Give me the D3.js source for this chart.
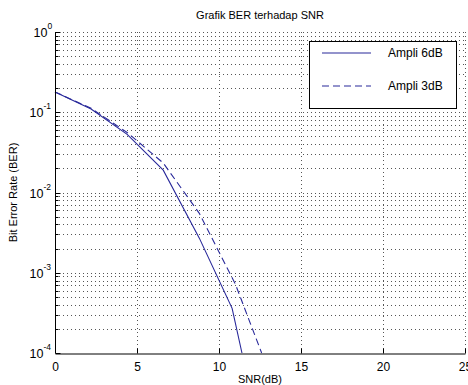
<html>
<head>
<script src="https://cdn.jsdelivr.net/npm/d3@7"></script>
<style>
  body { margin: 0; background: #fff; }
  text { font-family: "Liberation Sans", Arial, sans-serif; fill: #000; }
</style>
</head>
<body>
<div id="container"></div>
<script>
// data
const snr6 = [0, 2.2, 4.4, 6.6, 8.8, 10.8, 11.4];
const ber6 = [0.179, 0.11, 0.053, 0.019, 0.0027, 0.00036, 0.0001];
const snr3 = [0, 2.2, 4.4, 6.6, 8.8, 11.0, 12.6];
const ber3 = [0.179, 0.112, 0.056, 0.0233, 0.0055, 0.00072, 0.0001];
const seriesNames = ["Ampli 6dB", "Ampli 3dB"];
const xTicks = [0, 5, 10, 15, 20, 25];
const yExps = [0, -1, -2, -3, -4];

const width = 468, height = 385;
const margin = { top: 32, right: 3, bottom: 32, left: 55 };
const lineColor = "#28289a";

const svg = d3.select("#container").append("svg")
    .attr("width", width)
    .attr("height", height);

const x = d3.scaleLinear().domain([0, 25]).range([margin.left, width - margin.right]);
const y = d3.scaleLog().domain([1e-4, 1]).range([height - margin.bottom, margin.top]);

// grid (dotted)
const minors = [];
for (let e = -4; e < 0; e++) for (let m = 1; m <= 9; m++) minors.push(m * Math.pow(10, e));
minors.push(1);

const grid = svg.append("g")
    .attr("stroke", "#555")
    .attr("stroke-width", 1)
    .attr("stroke-dasharray", "1,3");

grid.selectAll("line.h")
    .data(minors.filter(v => v > 1e-4))
    .join("line")
    .attr("x1", x(0)).attr("x2", x(25))
    .attr("y1", d => Math.round(y(d)) + 0.5)
    .attr("y2", d => Math.round(y(d)) + 0.5);

grid.selectAll("line.v")
    .data(xTicks.filter(v => v > 0))
    .join("line")
    .attr("x1", d => Math.round(x(d)) + 0.5)
    .attr("x2", d => Math.round(x(d)) + 0.5)
    .attr("y1", y(1e-4)).attr("y2", y(1));

// curves
const line = d3.line()
    .x(d => x(d[0]))
    .y(d => y(d[1]));

svg.append("path")
    .datum(snr6.map((s, i) => [s, ber6[i]]))
    .attr("fill", "none")
    .attr("stroke", lineColor)
    .attr("stroke-width", 1.1)
    .attr("d", line);

svg.append("path")
    .datum(snr3.map((s, i) => [s, ber3[i]]))
    .attr("fill", "none")
    .attr("stroke", lineColor)
    .attr("stroke-width", 1.1)
    .attr("stroke-dasharray", "7,4")
    .attr("d", line);

// axes (left and bottom only, ticks inward)
const xAxis = d3.axisBottom(x)
    .tickValues(xTicks)
    .tickSizeInner(-5)
    .tickSizeOuter(0)
    .tickFormat(d3.format("d"))
    .tickPadding(9);

const gx = svg.append("g")
    .attr("transform", `translate(0,${Math.round(y(1e-4)) + 0.5})`)
    .call(xAxis);
gx.select(".domain").attr("stroke", "#000");
gx.selectAll("text").attr("font-size", 12).attr("font-family", "Liberation Sans, Arial, sans-serif");

const gy = svg.append("g")
    .attr("transform", `translate(${Math.round(x(0)) + 0.5},0)`);

gy.append("line")
    .attr("y1", y(1e-4)).attr("y2", y(1))
    .attr("stroke", "#000");

gy.selectAll("line.tick")
    .data(minors)
    .join("line")
    .attr("x1", 0)
    .attr("x2", d => Math.abs(Math.log10(d) - Math.round(Math.log10(d))) < 1e-9 ? 5 : 3)
    .attr("y1", d => Math.round(y(d)) + 0.5)
    .attr("y2", d => Math.round(y(d)) + 0.5)
    .attr("stroke", "#000");

const yLab = gy.selectAll("g.lab")
    .data(yExps)
    .join("g")
    .attr("transform", d => `translate(0,${y(Math.pow(10, d))})`);

yLab.append("text")
    .attr("x", d => d < 0 ? -12 : -8)
    .attr("y", 5)
    .attr("text-anchor", "end")
    .attr("font-size", 12.5)
    .text("10");

yLab.append("text")
    .attr("x", d => d < 0 ? -12 : -8)
    .attr("y", -3)
    .attr("font-size", 8.5)
    .text(d => d === 0 ? "0" : "-" + Math.abs(d));

// labels
svg.append("text")
    .attr("x", (x(0) + x(25)) / 2)
    .attr("y", 19)
    .attr("text-anchor", "middle")
    .attr("font-size", 11)
    .text("Grafik BER terhadap SNR");

svg.append("text")
    .attr("x", (x(0) + x(25)) / 2)
    .attr("y", 383)
    .attr("text-anchor", "middle")
    .attr("font-size", 11)
    .text("SNR(dB)");

svg.append("text")
    .attr("transform", `translate(17,${(y(1) + y(1e-4)) / 2}) rotate(-90)`)
    .attr("text-anchor", "middle")
    .attr("font-size", 11)
    .text("Bit Error Rate (BER)");

// legend
const legend = svg.append("g");
legend.append("rect")
    .attr("x", 309.5).attr("y", 41.5)
    .attr("width", 147).attr("height", 67)
    .attr("fill", "#fff")
    .attr("stroke", "#000");

const rows = legend.selectAll("g.row")
    .data(seriesNames)
    .join("g")
    .attr("transform", (d, i) => `translate(0,${i === 0 ? 53 : 86})`);

rows.append("line")
    .attr("x1", 322).attr("x2", 371)
    .attr("stroke", lineColor)
    .attr("stroke-width", 1.1)
    .attr("stroke-dasharray", (d, i) => i === 0 ? null : "7,4");

rows.append("text")
    .attr("x", 388)
    .attr("y", 4)
    .attr("font-size", 12)
    .text(d => d);
</script>
</body>
</html>
